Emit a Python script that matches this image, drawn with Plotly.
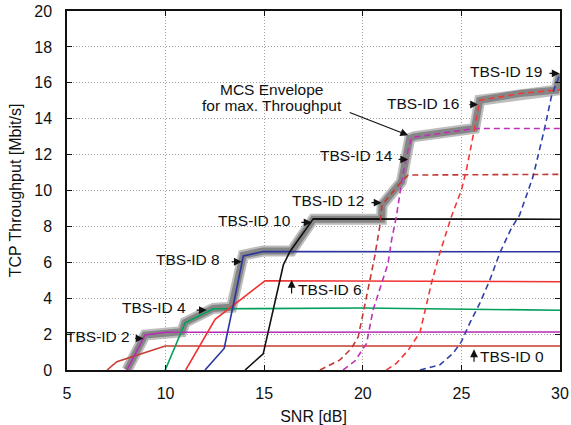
import plotly.graph_objects as go

# ---- data (SNR [dB] vs TCP throughput [Mbit/s]) ----
tbs0_snr = [7.03, 7.53, 9.98, 30.0]
tbs0_thr = [0.0, 0.46, 1.34, 1.34]

tbs2_snr = [8.04, 8.96, 10.0, 30.0]
tbs2_thr = [0.0, 1.95, 2.1, 2.12]

tbs4_snr = [9.98, 10.99, 12.42, 20.0, 30.0]
tbs4_thr = [0.0, 2.63, 3.41, 3.45, 3.33]

tbs6_snr = [11.02, 12.51, 15.04, 30.0]
tbs6_thr = [0.0, 2.82, 4.97, 4.92]

tbs8_snr = [12.0, 12.97, 13.52, 13.94, 14.95, 30.0]
tbs8_thr = [0.0, 1.2, 4.08, 6.35, 6.6, 6.59]

tbs10_snr = [14.03, 14.95, 15.97, 16.3, 17.49, 30.0]
tbs10_thr = [0.0, 0.9, 5.85, 6.59, 8.42, 8.4]

tbs12_snr = [17.83, 18.84, 19.43, 19.77, 20.36, 20.6, 20.86, 20.98, 21.96, 22.3, 30.0]
tbs12_thr = [0.0, 0.56, 1.21, 1.86, 5.0, 6.3, 8.0, 9.2, 10.49, 10.86, 10.9]

tbs14_snr = [19.0, 19.6, 20.19, 20.52, 21.28, 21.46, 21.7, 21.88, 22.04, 22.25, 22.47, 25.67, 30.0]
tbs14_thr = [0.0, 0.5, 1.48, 3.34, 5.94, 7.24, 8.54, 9.84, 10.95, 12.06, 12.95, 13.45, 13.45]

tbs16_snr = [21.2, 21.7, 22.3, 22.9, 23.48, 23.9, 24.49, 25.0, 25.25, 25.5, 25.67, 25.93, 27.95, 29.8, 30.0]
tbs16_thr = [0.0, 0.37, 1.1, 2.1, 4.83, 6.5, 8.54, 10.02, 11.14, 12.43, 13.46, 15.03, 15.4, 15.59, 15.62]

tbs19_snr = [22.9, 23.9, 24.58, 25.0, 25.42, 25.93, 26.44, 26.94, 27.53, 27.95, 28.63, 29.22, 29.56, 29.89, 30.0]
tbs19_thr = [0.0, 0.28, 0.93, 1.58, 2.6, 3.71, 5.01, 6.5, 7.89, 8.63, 10.76, 13.46, 15.22, 16.15, 16.5]

env_snr = [8.04, 8.96, 10.82, 10.99, 12.42, 13.35, 13.94, 14.95, 16.39, 17.49, 20.95, 20.98,
           21.96, 22.38, 22.63, 25.67, 25.93, 27.95, 29.8, 30.0]
env_thr = [0.0, 1.95, 2.13, 2.65, 3.43, 3.5, 6.4, 6.63, 6.63, 8.4, 8.4, 9.2,
           10.49, 12.9, 13.0, 13.46, 15.03, 15.4, 15.59, 16.5]

x_ticks = [5, 10, 15, 20, 25, 30]
y_ticks = [0, 2, 4, 6, 8, 10, 12, 14, 16, 18, 20]

FONT = "Liberation Sans, Arial, Helvetica, sans-serif"
FS = 15.5

fig = go.Figure()

# envelope (thick grey band underneath)
fig.add_trace(go.Scatter(x=env_snr, y=env_thr, mode="lines",
                         line=dict(color="#bdbdbd", width=11), showlegend=False, hoverinfo="skip"))
fig.add_trace(go.Scatter(x=env_snr, y=env_thr, mode="lines", name="MCS Envelope",
                         line=dict(color="#868686", width=7), showlegend=False))

series = [
    ("TBS-ID 0", tbs0_snr, tbs0_thr, "#c83c32", "solid"),
    ("TBS-ID 2", tbs2_snr, tbs2_thr, "#b42db4", "solid"),
    ("TBS-ID 4", tbs4_snr, tbs4_thr, "#00a05a", "solid"),
    ("TBS-ID 6", tbs6_snr, tbs6_thr, "#f03232", "solid"),
    ("TBS-ID 8", tbs8_snr, tbs8_thr, "#2a35a0", "solid"),
    ("TBS-ID 10", tbs10_snr, tbs10_thr, "#111111", "solid"),
    ("TBS-ID 12", tbs12_snr, tbs12_thr, "#c03a35", "6px,4px"),
    ("TBS-ID 14", tbs14_snr, tbs14_thr, "#c030b8", "6px,4px"),
    ("TBS-ID 16", tbs16_snr, tbs16_thr, "#f03a3a", "6px,4px"),
    ("TBS-ID 19", tbs19_snr, tbs19_thr, "#3040a8", "6px,4px"),
]
for name, xs, ys, col, dash in series:
    fig.add_trace(go.Scatter(x=xs, y=ys, mode="lines", name=name,
                             line=dict(color=col, width=1.6, dash=dash), showlegend=False))

# labels: (text, text_x, text_y, anchor, tail_x, tail_y, tip_x, tip_y)
labels = [
    ("TBS-ID 2", 8.31, 1.84, "right", 8.38, 1.76, 8.88, 1.76),
    ("TBS-ID 4", 11.14, 3.48, "right", 11.5, 3.34, 12.09, 3.34),
    ("TBS-ID 8", 12.87, 6.18, "right", 13.27, 6.03, 13.86, 6.03),
    ("TBS-ID 10", 16.44, 8.35, "right", 16.81, 8.22, 17.4, 8.22),
    ("TBS-ID 12", 20.15, 9.45, "right", 20.36, 9.32, 20.95, 9.32),
    ("TBS-ID 14", 21.63, 11.97, "right", 21.74, 11.73, 22.3, 11.73),
    ("TBS-ID 16", 25.0, 14.85, "right", 25.33, 14.79, 25.84, 14.79),
    ("TBS-ID 19", 29.2, 16.61, "right", 29.39, 16.52, 29.98, 16.52),
    ("TBS-ID 6", 16.6, 4.49, "left", 16.39, 4.18, 16.39, 5.01),
    ("TBS-ID 0", 25.85, 0.74, "left", 25.64, 0.37, 25.64, 1.15),
]
for text, tx, ty, anc, ax, ay, hx, hy in labels:
    fig.add_annotation(x=tx, y=ty, text=text, showarrow=False, xanchor=anc, yanchor="middle",
                       font=dict(family=FONT, size=FS, color="#111"))
    fig.add_annotation(x=hx, y=hy, ax=ax, ay=ay, axref="x", ayref="y", text="",
                       showarrow=True, arrowhead=2, arrowsize=1.3, arrowwidth=1.2, arrowcolor="#111")

fig.add_annotation(x=15.39, y=15.63, text="MCS Envelope", showarrow=False, xanchor="center",
                   yanchor="middle", font=dict(family=FONT, size=FS, color="#111"))
fig.add_annotation(x=15.39, y=14.75, text="for max. Throughput", showarrow=False, xanchor="center",
                   yanchor="middle", font=dict(family=FONT, size=FS, color="#111"))
fig.add_annotation(x=22.3, y=13.08, ax=19.26, ay=14.38, axref="x", ayref="y", text="",
                   showarrow=True, arrowhead=2, arrowsize=1.3, arrowwidth=1.2, arrowcolor="#111")

axis_common = dict(
    showline=True, linecolor="#111", linewidth=1.5, mirror="allticks",
    ticks="inside", ticklen=5, tickwidth=1, tickcolor="#111",
    showgrid=True, gridcolor="#a0a0a0", gridwidth=1, griddash="1px,2px",
    zeroline=False, tickfont=dict(family=FONT, size=16, color="#111"),
)

fig.update_xaxes(range=[5, 30], tickvals=x_ticks, ticktext=[str(v) for v in x_ticks],
                 title=dict(text="SNR [dB]", font=dict(family=FONT, size=16, color="#111"), standoff=12),
                 ticklabelstandoff=8, **axis_common)
fig.update_yaxes(range=[0, 20], tickvals=y_ticks, ticktext=[str(v) for v in y_ticks],
                 title=dict(text="TCP Throughput [Mbit/s]", font=dict(family=FONT, size=16, color="#111"), standoff=9),
                 ticklabelstandoff=10, **axis_common)

fig.update_layout(
    width=571, height=425,
    margin=dict(l=67, r=11, t=11, b=55, autoexpand=False),
    plot_bgcolor="white", paper_bgcolor="white",
    font=dict(family=FONT, size=FS, color="#111"),
    showlegend=False,
)

fig.write_html("out.html")
